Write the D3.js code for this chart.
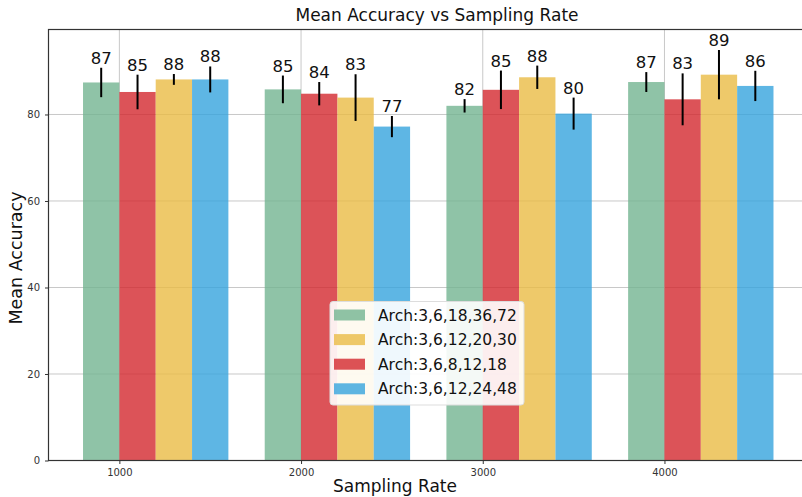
<!DOCTYPE html>
<html>
<head>
<meta charset="utf-8">
<script src="https://cdn.jsdelivr.net/npm/d3@7"></script>
<style>
  body { margin: 0; background: #fff; }
  svg { font-family: "DejaVu Sans", sans-serif; display: block; }
</style>
</head>
<body>
<div id="chart"></div>
<script>
// sampling rates on the x axis
const rates = [1000, 2000, 3000, 4000];

// series in the order the bars are drawn
const archs = ['Arch:3,6,18,36,72', 'Arch:3,6,8,12,18', 'Arch:3,6,12,20,30', 'Arch:3,6,12,24,48'];
const colors = ['#73b491', '#d3282e', '#eabc45', '#36a4dd'];

const meanGreen = [87.4, 85.8, 82.0, 87.5];
const meanRed = [85.2, 84.8, 85.7, 83.5];
const meanYellow = [88.1, 83.9, 88.6, 89.2];
const meanBlue = [88.1, 77.2, 80.2, 86.6];

const stdGreen = [3.4, 3.2, 1.55, 2.3];
const stdRed = [4.0, 2.7, 4.45, 6.0];
const stdYellow = [1.25, 5.4, 2.7, 5.7];
const stdBlue = [3.0, 2.45, 3.7, 3.5];

const means = [meanGreen, meanRed, meanYellow, meanBlue];
const stds = [stdGreen, stdRed, stdYellow, stdBlue];

// legend lists the series in a different order
const legendOrder = [0, 2, 1, 3];

const yTicks = [0, 20, 40, 60, 80];

let width = 802;
let height = 497;
let mLeft = 48.5, mRight = 808, mTop = 29.5, mBottom = 460.5;
let barWidth = 200;

let svg = d3.select('#chart')
  .append('svg')
  .attr('width', width)
  .attr('height', height);

// build flat list of bars
let bars = [];
archs.forEach((name, s) => {
  rates.forEach((r, g) => {
    bars.push({
      series: s,
      x0: r + (s - 1) * barWidth,
      mean: means[s][g],
      std: stds[s][g]
    });
  });
});

// x domain with 5% margin like matplotlib
let xmin = d3.min(bars, d => d.x0);
let xmax = d3.max(bars, d => d.x0 + barWidth);
let xpad = (xmax - xmin) * 0.05;
let x = d3.scaleLinear().domain([xmin - xpad, xmax + xpad]).range([mLeft, mRight]);

let ymax = d3.max(bars, d => d.mean + d.std) * 1.05;
let y = d3.scaleLinear().domain([0, ymax]).range([mBottom, mTop]);

// grid
svg.append('g')
  .selectAll('line')
  .data(yTicks.filter(t => t > 0))
  .enter()
  .append('line')
  .attr('x1', mLeft).attr('x2', mRight)
  .attr('y1', d => y(d)).attr('y2', d => y(d))
  .attr('stroke', '#c8c8c8')
  .attr('stroke-width', 1);

svg.append('g')
  .selectAll('line')
  .data(rates)
  .enter()
  .append('line')
  .attr('x1', d => x(d)).attr('x2', d => x(d))
  .attr('y1', mTop).attr('y2', mBottom)
  .attr('stroke', '#c8c8c8')
  .attr('stroke-width', 1);

// bars
svg.append('g')
  .selectAll('rect')
  .data(bars)
  .enter()
  .append('rect')
  .attr('x', d => x(d.x0))
  .attr('y', d => y(d.mean))
  .attr('width', d => x(d.x0 + barWidth) - x(d.x0))
  .attr('height', d => y(0) - y(d.mean))
  .attr('fill', d => colors[d.series])
  .attr('fill-opacity', 0.8);

// error bars
svg.append('g')
  .selectAll('line')
  .data(bars)
  .enter()
  .append('line')
  .attr('x1', d => x(d.x0 + barWidth / 2))
  .attr('x2', d => x(d.x0 + barWidth / 2))
  .attr('y1', d => y(d.mean - d.std))
  .attr('y2', d => y(d.mean + d.std))
  .attr('stroke', '#000')
  .attr('stroke-width', 2);

// value labels (truncated)
svg.append('g')
  .selectAll('text')
  .data(bars)
  .enter()
  .append('text')
  .attr('x', d => x(d.x0 + barWidth / 2))
  .attr('y', d => y(d.mean + d.std) - 4)
  .attr('text-anchor', 'middle')
  .attr('font-size', 16.5)
  .attr('fill', '#111')
  .text(d => Math.floor(d.mean));

// spines
svg.append('rect')
  .attr('x', mLeft).attr('y', mTop)
  .attr('width', mRight - mLeft).attr('height', mBottom - mTop)
  .attr('fill', 'none')
  .attr('stroke', '#333')
  .attr('stroke-width', 1.2);

// y axis
let yAxis = svg.append('g')
  .attr('transform', `translate(${mLeft},0)`)
  .call(d3.axisLeft(y).tickValues(yTicks).tickSize(3.5).tickPadding(5));
yAxis.select('.domain').remove();
yAxis.selectAll('text').attr('font-size', 10).attr('fill', '#333').attr('font-family', 'DejaVu Sans');
yAxis.selectAll('line').attr('stroke', '#333');

// x axis
let xAxis = svg.append('g')
  .attr('transform', `translate(0,${mBottom})`)
  .call(d3.axisBottom(x).tickValues(rates).tickFormat(d3.format('d')).tickSize(3.5).tickPadding(5));
xAxis.select('.domain').remove();
xAxis.selectAll('text').attr('font-size', 10).attr('fill', '#333').attr('font-family', 'DejaVu Sans');
xAxis.selectAll('line').attr('stroke', '#333');

// title and axis labels
svg.append('text')
  .attr('x', 437)
  .attr('y', 20.5)
  .attr('text-anchor', 'middle')
  .attr('font-size', 17)
  .attr('fill', '#111')
  .text('Mean Accuracy vs Sampling Rate');

svg.append('text')
  .attr('x', 395)
  .attr('y', 492)
  .attr('text-anchor', 'middle')
  .attr('font-size', 17)
  .attr('fill', '#111')
  .text('Sampling Rate');

svg.append('text')
  .attr('transform', 'translate(22,258) rotate(-90)')
  .attr('text-anchor', 'middle')
  .attr('font-size', 17.5)
  .attr('fill', '#111')
  .text('Mean Accuracy');

// legend
let legend = svg.append('g').attr('transform', 'translate(330,301.5)');
legend.append('rect')
  .attr('width', 194).attr('height', 103.5)
  .attr('rx', 3)
  .attr('fill', '#fff')
  .attr('fill-opacity', 0.9)
  .attr('stroke', '#ddd');

let items = legend.selectAll('g.item')
  .data(legendOrder)
  .enter()
  .append('g')
  .attr('transform', (d, i) => `translate(0,${13.5 + i * 24.6})`);

items.append('rect')
  .attr('x', 4).attr('y', -5.5)
  .attr('width', 31).attr('height', 11)
  .attr('fill', d => colors[d])
  .attr('fill-opacity', 0.8);

items.append('text')
  .attr('x', 48)
  .attr('y', 5.5)
  .attr('font-size', 15.5)
  .attr('fill', '#111')
  .text(d => archs[d]);
</script>
</body>
</html>
